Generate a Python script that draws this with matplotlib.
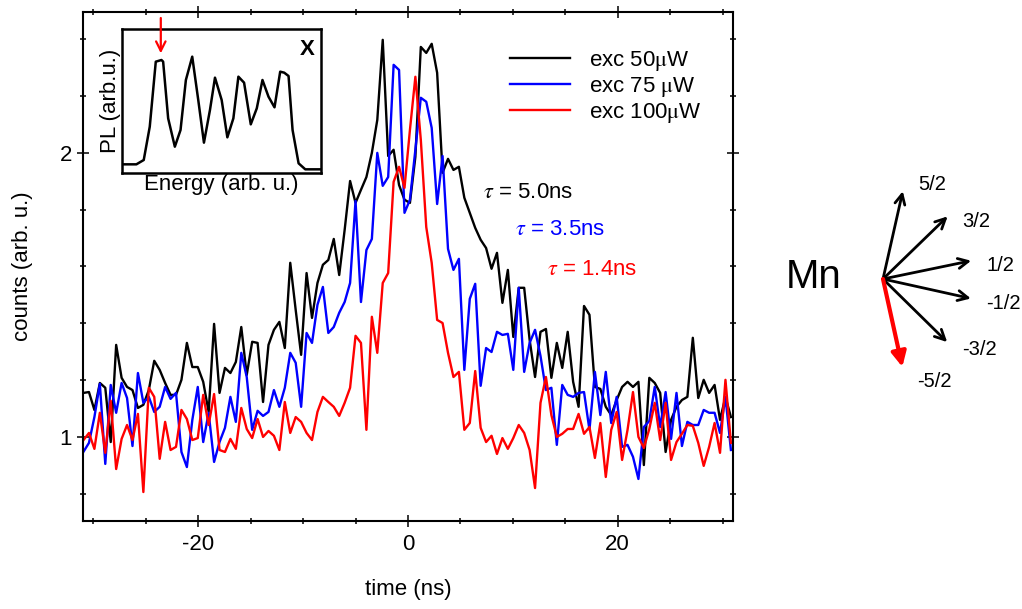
import numpy as np
import matplotlib
matplotlib.use('Agg')
import matplotlib.pyplot as plt

plt.rcParams['font.family'] = ['Liberation Sans', 'DejaVu Sans']
plt.rcParams['mathtext.fontset'] = 'stix'
plt.rcParams['axes.unicode_minus'] = False

# time traces (counts, arb. u.), one sample every ~0.52 ns
exc_50uW = [
    1.155, 1.158, 1.095, 1.190, 1.173, 0.982, 1.324, 1.208, 1.176, 1.165,
    1.102, 1.113, 1.165, 1.268, 1.236, 1.190, 1.148, 1.148, 1.201, 1.331,
    1.246, 1.246, 1.194, 1.088, 1.398, 1.155, 1.243, 1.225, 1.264, 1.387,
    1.218, 1.335, 1.331, 1.123, 1.324, 1.377, 1.405, 1.313, 1.613, 1.447,
    1.289, 1.577, 1.419, 1.542, 1.606, 1.623, 1.697, 1.570, 1.729, 1.901,
    1.824, 1.870, 1.915, 2.000, 2.116, 2.398, 1.989, 2.011, 1.887, 1.835,
    1.824, 1.986, 2.373, 2.352, 2.384, 2.282, 1.930, 1.979, 1.940, 1.951,
    1.842, 1.789, 1.736, 1.694, 1.665, 1.592, 1.648, 1.472, 1.588, 1.352,
    1.525, 1.525, 1.342, 1.211, 1.370, 1.380, 1.208, 1.331, 1.243, 1.370,
    1.194, 1.106, 1.461, 1.430, 1.176, 1.169, 1.106, 1.077, 1.130, 1.176,
    1.194, 1.176, 1.194, 0.901, 1.208, 1.190, 1.155, 0.947, 1.060, 1.106,
    1.130, 1.141, 1.349, 1.137, 1.201, 1.155, 1.183, 1.060, 1.141, 1.070,
]
exc_75uW = [
    0.948, 0.979, 1.070, 1.187, 0.905, 1.183, 1.085, 1.190, 1.137, 0.968,
    1.225, 1.120, 1.141, 1.088, 1.106, 1.176, 1.134, 1.155, 0.947, 0.894,
    1.060, 1.176, 0.982, 1.085, 0.912, 0.982, 1.032, 1.141, 1.053, 1.296,
    1.211, 1.025, 1.092, 1.074, 1.088, 1.165, 1.106, 1.173, 1.296, 1.261,
    1.106, 1.366, 1.331, 1.465, 1.528, 1.366, 1.387, 1.437, 1.475, 1.542,
    1.831, 1.475, 1.658, 1.697, 2.000, 1.884, 1.915, 2.310, 2.292, 1.789,
    1.835, 2.011, 2.194, 2.180, 2.088, 1.820, 1.989, 1.662, 1.588, 1.627,
    1.236, 1.486, 1.539, 1.180, 1.313, 1.299, 1.370, 1.359, 1.363, 1.236,
    1.525, 1.229, 1.331, 1.377, 1.285, 1.165, 1.173, 0.972, 1.183, 1.148,
    1.141, 1.155, 1.158, 1.025, 1.229, 1.077, 1.229, 1.049, 1.141, 0.965,
    0.972, 0.930, 0.852, 1.035, 1.056, 1.176, 1.035, 1.158, 0.993, 1.155,
    0.968, 1.053, 1.042, 1.042, 1.095, 1.085, 1.085, 1.014, 1.141, 0.954,
]
exc_100uW = [
    0.989, 1.014, 0.958, 1.085, 0.944, 1.127, 0.887, 0.993, 1.042, 0.989,
    1.081, 0.806, 1.173, 1.141, 0.923, 1.053, 0.954, 0.965, 1.095, 1.063,
    0.989, 0.996, 1.148, 1.042, 1.151, 0.954, 0.947, 0.993, 0.958, 1.102,
    1.028, 0.996, 1.063, 1.000, 1.021, 1.004, 0.954, 1.123, 1.014, 1.070,
    1.053, 1.014, 0.989, 1.088, 1.141, 1.123, 1.106, 1.074, 1.120, 1.173,
    1.356, 1.331, 1.025, 1.423, 1.296, 1.542, 1.577, 1.898, 1.951, 1.877,
    2.081, 2.268, 2.046, 1.739, 1.613, 1.412, 1.401, 1.296, 1.211, 1.229,
    1.025, 1.049, 1.232, 1.032, 0.982, 1.004, 0.940, 0.996, 0.958, 0.996,
    1.042, 1.014, 0.954, 0.820, 1.120, 1.211, 1.077, 1.000, 1.011, 1.028,
    1.028, 1.081, 1.011, 1.035, 0.926, 1.049, 0.859, 1.025, 1.088, 0.919,
    1.025, 1.158, 1.000, 0.961, 1.028, 1.120, 0.989, 1.120, 0.919, 0.982,
    1.011, 1.042, 1.039, 0.979, 0.898, 0.965, 1.049, 0.944, 1.201, 0.979,
]
series = [exc_50uW, exc_75uW, exc_100uW]
series_labels = [r'exc 50$\mathrm{\mu}$W', r'exc 75 $\mathrm{\mu}$W', r'exc 100$\mathrm{\mu}$W']
series_colors = ['black', 'blue', 'red']
decay_times = ['5.0ns', '3.5ns', '1.4ns']

# inset PL spectrum (arb. u.)
inset_energy = [127, 170, 192, 210, 228, 245, 250, 265, 285, 302, 318, 337, 355, 372, 390, 405, 425,
                442, 460, 475, 492, 512, 530, 547, 565, 583, 600, 612, 625, 637, 655, 675, 720]
inset_pl = [26, 26, 39, 139, 334, 339, 334, 164, 79, 129, 279, 349, 219, 91, 189, 286, 219,
            107, 164, 289, 271, 146, 194, 279, 229, 197, 304, 301, 291, 129, 29, 11, 11]

# Mn spin states
spin_labels = ['5/2', '3/2', '1/2', '-1/2', '-3/2', '-5/2']
spin_angles = [77.3, 44.1, 11.7, -12.5, -44.5, -77.6]

fig = plt.figure(figsize=(10.22, 6.09), dpi=100)
ax = fig.add_axes([83/1022, 1-521/609, 650/1022, 509/609])

for y, c, lab in zip(series, series_colors, series_labels):
    t = np.linspace(-30.95, 30.8, len(y))
    ax.plot(t, y, color=c, lw=1.7, label=lab)

ax.set_xlim(-31, 31)
ax.set_ylim(0.704, 2.496)
ax.set_xticks([-20, 0, 20])
ax.set_xticks(np.arange(-30, 31, 5), minor=True)
ax.set_yticks([1, 2])
ax.set_yticks([0.8, 1.2, 1.4, 1.6, 1.8, 2.2, 2.4], minor=True)
ax.tick_params(which='both', direction='inout', top=True, right=True, width=1.1, labelsize=16)
ax.tick_params(which='major', length=8.6)
ax.tick_params(which='minor', length=4.3)
ax.tick_params(axis='x', pad=5)
ax.tick_params(axis='y', pad=3.5)
for sp in ax.spines.values():
    sp.set_linewidth(1.5)
ax.set_xlabel('time (ns)', fontsize=16, labelpad=17)
ax.set_ylabel('counts (arb. u.)', fontsize=16, labelpad=19)

ax.legend(loc='upper left', bbox_to_anchor=(0.657, 0.928), frameon=False, fontsize=16,
          handlelength=2.7, handletextpad=0.86, labelspacing=0.1, borderpad=0, borderaxespad=0)

tau_pos = [(7.14, 1.859), (10.19, 1.729), (13.24, 1.588)]
for (tx, ty), c, tau in zip(tau_pos, series_colors, decay_times):
    ax.text(tx, ty, r'$\tau$ = ' + tau, color=c, fontsize=16, va='center', ha='left')

# inset
ax_in = fig.add_axes([122/1022, 1-173/609, 199/1022, 144/609])
ax_in.plot(inset_energy, inset_pl, color='black', lw=1.8)
ax_in.set_xlim(127, 722)
ax_in.set_ylim(0, 432)
ax_in.set_xticks([])
ax_in.set_yticks([])
for sp in ax_in.spines.values():
    sp.set_linewidth(1.8)
ax_in.set_xlabel('Energy (arb. u.)', fontsize=16, labelpad=1)
ax_in.set_ylabel('PL (arb.u.)', fontsize=16, labelpad=1)
ax_in.text(0.93, 0.86, 'X', transform=ax_in.transAxes, fontsize=16, fontweight='bold',
           ha='center', va='center')
ax_in.annotate('', xy=(243, 359), xytext=(243, 465), annotation_clip=False,
               arrowprops=dict(arrowstyle='->', color='red', lw=1.6, mutation_scale=17,
                               shrinkA=0, shrinkB=0))

# Mn spin diagram on an overlay in pixel coordinates
ov = fig.add_axes([0, 0, 1, 1])
ov.set_xlim(0, 1022)
ov.set_ylim(609, 0)
ov.axis('off')
ov.text(814, 277, 'Mn', fontsize=29, ha='center', va='center')
x0, y0 = 883, 279
arrow_len = 90
label_dy = [-7, 5, 5, 5, 7, 15]
for lab, ang, dy in zip(spin_labels, spin_angles, label_dy):
    ex = x0 + arrow_len * np.cos(np.radians(ang))
    ey = y0 - arrow_len * np.sin(np.radians(ang))
    if lab == '-5/2':
        props = dict(arrowstyle='-|>', color='red', lw=3, mutation_scale=22, shrinkA=0, shrinkB=0)
    else:
        props = dict(arrowstyle='->', color='black', lw=2, mutation_scale=18, shrinkA=0, shrinkB=0)
    ov.annotate('', xy=(ex, ey), xytext=(x0, y0), arrowprops=props)
    ov.text(ex + 15, ey + dy, lab, fontsize=14.5, ha='left', va='center')

fig.savefig('out.png', dpi=100)
